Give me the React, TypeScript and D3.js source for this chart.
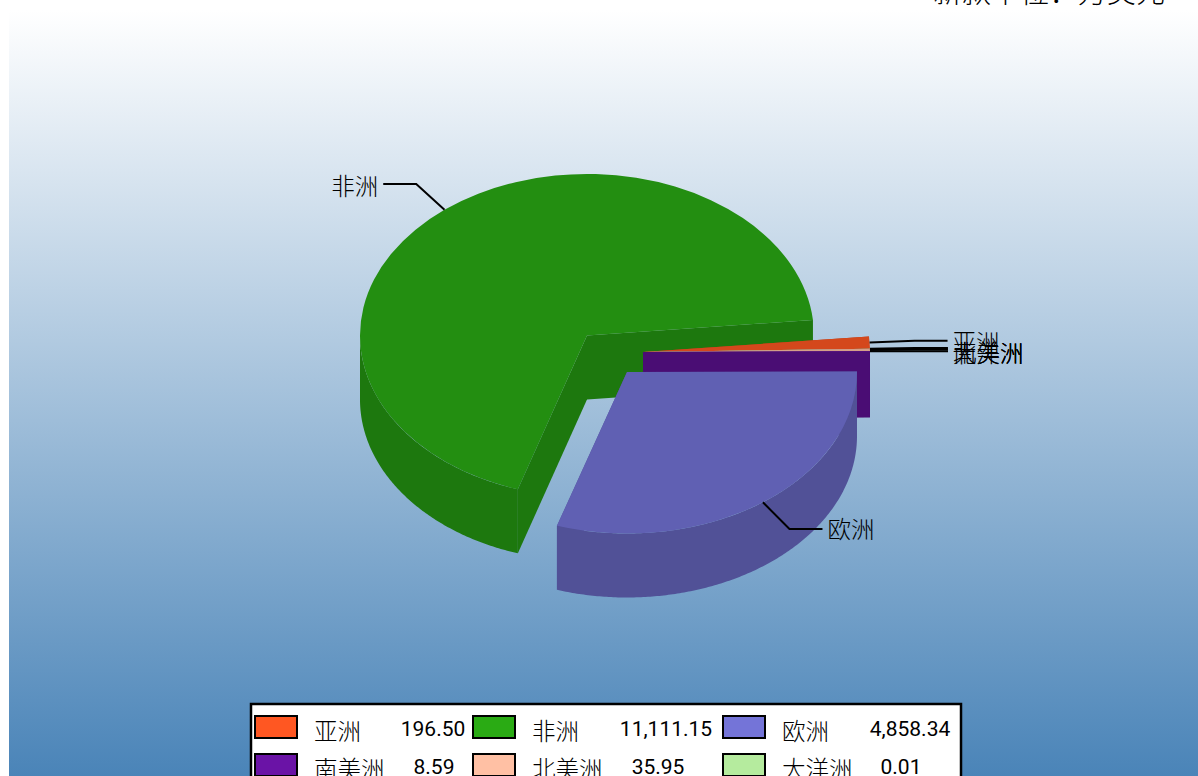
import React from 'react';
import * as d3 from 'd3';

const continents = ['亚洲', '非洲', '欧洲', '南美洲', '北美洲', '大洋洲'];
const amounts = [196.5, 11111.15, 4858.34, 8.59, 35.95, 0.01];
const amountLabels = ['196.50', '11,111.15', '4,858.34', '8.59', '35.95', '0.01'];
const colors = ['#ff5722', '#2aab14', '#7474d8', '#6a13a6', '#ffc0a4', '#b5eb9e'];
const unitTitle = '新款单位：万美元';

// slice centres once pulled out of the pie
const offsets: [number, number][] = [[56, 16.5], [0, 0], [40, 36.5], [56, 16.5], [56, 16.5], [56, 16.5]];
const radii = [227, 227, 230, 227, 227, 227];
const depths = [66, 64, 64, 66, 66, 66];
const paintOrder = [1, 0, 5, 4, 3, 2];
const labelY = [343, 187, 530, 354, 354, 354];
const legendValueX = [433, 666, 910, 434, 658, 901];

const width = 1198;
const height = 776;
const cx = 587;
const cy = 335.5;
const ry = 161.5;
const cjk = '"Noto Sans CJK SC", sans-serif';

const deg = Math.PI / 180;
// counter-clockwise from just above east, so the big slices land where they do in the picture
const pie = d3.pie<number>().sort(null).startAngle(88.85 * deg).endAngle(-271.15 * deg);
const slices = pie(amounts);
const arc = d3.arc<d3.PieArcDatum<number>>().innerRadius(0);

// d3 angle -> screen point on the ellipse
const onRim = (a: number, i: number, grow = 0, growY = grow): [number, number] => [
  cx + offsets[i][0] + (radii[i] + grow) * Math.sin(a),
  cy + offsets[i][1] - (ry + growY) * Math.cos(a),
];

const shade = (c: string, k: number) => {
  const { r, g, b } = d3.rgb(c);
  return d3.rgb(r * k, g * k, b * k).formatHex();
};

// outer wall, only the part on the front of the ellipse
const wallPath = (i: number) => {
  const s = slices[i];
  const lo = Math.min(s.startAngle, s.endAngle);
  const hi = Math.max(s.startAngle, s.endAngle);
  const pts: [number, number][] = [];
  // front half is 90deg..270deg in d3 angles, try it in each full turn
  for (const turn of [-2 * Math.PI, 0]) {
    const a0 = Math.max(lo, Math.PI / 2 + turn);
    const a1 = Math.min(hi, (3 * Math.PI) / 2 + turn);
    if (a1 > a0) d3.range(a0, a1, 0.01).concat(a1).forEach(a => pts.push(onRim(a, i)));
  }
  if (!pts.length) return null;
  const lower = pts.map(([x, y]) => [x, y + depths[i]] as [number, number]).reverse();
  return d3.line()([...pts, ...lower]) + 'Z';
};

const facePath = (i: number, a: number) => {
  const c: [number, number] = [cx + offsets[i][0], cy + offsets[i][1]];
  const e = onRim(a, i);
  return d3.line()([c, e, [e[0], e[1] + depths[i]], [c[0], c[1] + depths[i]]]) + 'Z';
};

const leader = (i: number) => {
  const s = slices[i];
  const mid = (s.startAngle + s.endAngle) / 2;
  const p0 = onRim(mid, i);
  const p1 = onRim(mid, i, 45, 33);
  const dir = Math.sin(mid) >= 0 ? 1 : -1;
  const p2: [number, number] = [p1[0] + dir * 33, p1[1]];
  return { d: d3.line()([p0, p1, p2]) as string, x: p2[0] + dir * 5, y: p2[1], anchor: dir > 0 ? 'start' : 'end' };
};

const legendCols = [255, 473, 723];
const legendRows = [716, 754];

export default function App() {
  return (
    <svg width={width} height={height} style={{ position: 'absolute', left: 0, top: 0, display: 'block' }}>
      <defs>
        <linearGradient id="bg" x1="0" y1="0" x2="0" y2="1">
          <stop offset="0" stopColor="#ffffff" />
          <stop offset="1" stopColor="#4a84b8" />
        </linearGradient>
      </defs>
      <rect x={9} y={10} width={width - 9} height={height - 10} fill="url(#bg)" />
      <text x={1165} y={2.5} textAnchor="end" fontFamily={cjk} fontSize={29} fontWeight={300} fill="#000">{unitTitle}</text>

      {paintOrder.map(i => {
        const s = slices[i];
        const wall = wallPath(i);
        return (
          <g key={i}>
            <path d={facePath(i, s.startAngle)} fill={shade(colors[i], 0.7)} />
            <path d={facePath(i, s.endAngle)} fill={shade(colors[i], 0.7)} />
            {wall && <path d={wall} fill={shade(colors[i], 0.7)} />}
            <path
              d={arc.outerRadius(radii[i])(s) as string}
              fill={shade(colors[i], 0.83)}
              transform={`translate(${cx + offsets[i][0]},${cy + offsets[i][1]}) scale(1,${ry / radii[i]})`}
            />
          </g>
        );
      })}

      {continents.map((name, i) => {
        const l = leader(i);
        return (
          <g key={name}>
            <path d={l.d} fill="none" stroke="#000" strokeWidth={2} />
            <text x={l.x} y={labelY[i]} dy="0.36em" textAnchor={l.anchor as 'start' | 'end'} fontFamily={cjk} fontSize={23.5} fontWeight={300} fill="#000">{name}</text>
          </g>
        );
      })}

      <rect x={251} y={704} width={710} height={90} fill="#fff" stroke="#000" strokeWidth={2.5} />
      {continents.map((name, i) => {
        const col = legendCols[i % 3];
        const row = legendRows[Math.floor(i / 3)];
        return (
          <g key={name}>
            <rect x={col} y={row} width={42} height={22} fill={colors[i]} stroke="#000" strokeWidth={2} />
            <text x={col + 59} y={row + 24} fontFamily={cjk} fontSize={23.5} fontWeight={300} fill="#000">{name}</text>
            <text x={legendValueX[i]} y={row + 20} textAnchor="middle" fontFamily="Roboto, sans-serif" fontSize={21} fill="#000">{amountLabels[i]}</text>
          </g>
        );
      })}
    </svg>
  );
}
